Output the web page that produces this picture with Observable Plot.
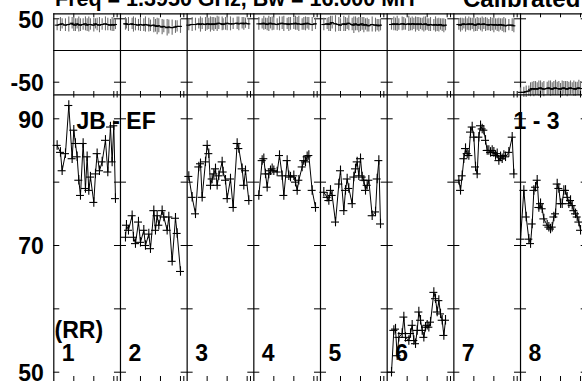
<!DOCTYPE html>
<html><head><meta charset="utf-8">
<script src="https://cdn.jsdelivr.net/npm/d3@7"></script>
<script src="https://cdn.jsdelivr.net/npm/@observablehq/plot@0.6"></script>
<style>
body{margin:0;background:#fff;overflow:hidden;}
#wrap{position:relative;width:582px;height:381px;overflow:hidden;font-family:"Liberation Sans",Arial,sans-serif;font-weight:bold;color:#000;}
#wrap svg{position:absolute;left:0;top:0;background:transparent;}
.ttl{position:absolute;white-space:pre;}
</style></head><body>
<div id="wrap"></div>
<script>
// ---------- text ----------
const titleLeft = "Freq = 1.3950 GHz, Bw = 16.000 MH";
const titleRight = "Calibrated";
const baselineLabel = "JB - EF";
const sourceLabel = "1 - 3";
const polLabel = "(RR)";
const panelLabels = ["1","2","3","4","5","6","7","8"];
const phaseTickLabels = [50, -50];
const ampTickLabels = [90, 70, 50];
const phaseTicks = [50, -50];
const ampTicks = [90, 80, 70, 60, 50];
const timeTicks = [30, 60, 90, 95]; // % of panel

// ---------- data: time (% of panel), amplitude, phase, phase error ----------
const t1 = [5,10,12.5,17.5,22.5,27.5,30,32.5,35,37.5,40,44,47.5,50,52.5,55,60,62.5,65,68.5,72.5,77.5,81,85,87.5,90,92.5];
const a1 = [85.8,84.7,81.8,84.5,92.1,83.7,88.2,86.1,84,80.3,77.9,86.1,79,84,78.7,80.8,76.8,81.3,84.5,81.8,83.2,86.6,81.6,88.7,83.2,88.9,77.4];
const p1 = [40,41,42,40,41,43,41,40,42,41,40,41,42,40,41,41,40,42,41,40,41,42,41,40,41,40,41];
const e1 = [9,11,8,10,12,9,11,10,8,12,10,9,11,10,12,9,11,8,10,12,9,11,10,9,11,10,8];

const t2 = [7.5,9,12,17.5,19.5,22.5,27,30,35,37.5,42.5,45,50,52.5,55,57.5,62.5,65,70,72.5,77.5,82.5,85,90];
const a2 = [71.3,73.2,72.4,74.7,71.3,70.3,73.7,70.5,72.4,70,71.8,69.5,75.5,72.4,74.7,73.2,75.5,74.5,72.4,74.5,67.5,74.3,71.9,65.9];
const p2 = [42,42,41,42,41,41,40,41,40,41,40,39,40,39,38,39,37,38,36,37,36,37,38,38];
const e2 = [10,8,11,9,12,10,9,11,10,12,11,9,12,10,13,11,12,10,13,11,12,10,9,11];

const t3 = [2.5,7.5,12.5,17.5,20,22.5,27.5,30,32.5,35,37.5,40,42.5,45,47.5,52.5,54,57.5,60,65,69,75,77.5,82.5,85,87.5,92.5];
const a3 = [80.9,77.6,75,82.4,82.9,77.6,83.2,85.8,84.5,79.5,80.5,81.3,82.1,79.5,81,83.2,81.6,80.3,77.4,80.5,76,86.1,85.3,82.1,79.5,81.8,77.1];
const p3 = [40,41,41,42,41,42,41,42,42,41,42,41,42,42,43,42,41,42,43,42,42,43,42,43,42,43,42];
const e3 = [9,11,10,8,12,9,11,10,9,12,10,11,9,12,10,11,9,10,12,11,9,10,11,9,10,8,9];

const t4 = [7.5,12.5,15,17.5,20,22.5,25,27.5,30,35,38.5,42.5,45,50,52.5,55,60,62.5,65,67.5,72.5,75,77.5,80,82.5,87.5,92.5];
const a4 = [77.9,83.4,83.7,81.3,79.2,81.3,81.8,82.1,81.8,81.6,84.2,81,77.9,83.4,81,80.8,81,80,78.7,80.3,82.4,83.4,83.2,84,84.2,78.7,76];
const p4 = [42,42,43,42,41,42,43,42,42,41,42,43,42,42,41,42,42,43,42,42,41,42,42,43,42,41,42];
const e4 = [10,8,11,9,10,12,9,11,10,9,11,10,12,9,11,10,9,11,10,12,9,10,11,9,10,11,9];

const t5 = [5,10,12.5,15,17.5,22.5,27.5,30,35,37.5,40,42.5,47.5,50,52.5,55,57.5,60,62.5,65,67.5,70,72.5,77.5,82.5,85,87.5,90];
const a5 = [78.4,77.6,77.1,78.7,77.9,73.7,79.7,81.8,75.5,78.7,80.5,79,76.6,80.8,82.1,83.2,81,83.7,80.8,80.3,78.7,79.5,80.3,74.7,75.3,80.5,83.4,73.4];
const p5 = [41,42,41,42,44,42,41,40,42,41,42,43,41,40,42,41,40,41,42,40,41,40,39,41,40,40,39,40];
const e5 = [10,9,11,12,10,13,11,10,12,11,9,12,10,13,11,10,12,11,10,12,9,11,10,12,11,9,10,9];

const t6 = [6.5,10,12.5,15,17.5,22.5,25,27.5,32.5,35,37.5,40,42.5,45,47.5,50,52.5,55,57.5,60,62.5,65,70,72.5,75,77.5,80,82.5,85,87.5];
const a6 = [50,56.6,56.8,52.6,55.5,56.1,58.7,55.5,55,56.1,57.4,55,54.5,56.6,59.5,58.2,56.6,55.5,57.1,57.4,57.1,57.9,62.6,61.6,59.5,61.3,59.2,58.2,55.8,58.2];
const p6 = [41,42,41,42,41,42,42,41,42,41,42,42,41,42,41,42,41,41,42,41,40,41,40,41,40,40,41,40,39,40];
const e6 = [9,11,10,12,9,11,10,9,12,10,11,9,12,10,11,9,10,12,11,9,10,11,9,12,10,11,9,10,11,9];

const t7 = [7.5,10,12.5,15,17.5,20,22.5,25,27.5,30,32.5,35,37.5,40,42.5,45,47.5,50,52.5,55,57.5,60,62.5,65,67.5,70,72.5,75,77.5,82.5,87.5,90];
const a7 = [80.3,78.7,81,83.7,85.3,84.5,84.2,87.9,88.7,87.1,82.4,81.3,87.1,88.9,88.4,88.2,86.6,85,85,84.7,85,84.7,84.2,84.5,83.4,84,83.7,84.2,84,84.7,87.1,81.3];
const p7 = [41,40,41,42,41,41,42,41,42,41,40,41,42,41,41,42,41,41,40,41,41,40,41,40,40,41,40,40,39,40,40,39];
const e7 = [9,11,10,8,12,9,11,10,9,12,10,11,9,10,12,9,11,10,9,11,10,12,9,10,11,9,10,12,11,9,10,11];

const t8 = [0,5,8.5,12.5,15,17.5,20,22.5,25,27.5,30,32.5,35,40,42.5,45,47.5,50,52.5,55,57.5,60,62.5,65,67.5,70,72.5,75,77.5,80,82.5,85,87.5,90];
const a8 = [71,78.7,74.5,71,70.3,73.4,78.7,79.2,80.3,76,76.6,75.8,74.2,73.2,72.9,72.6,72.9,74.5,75,79.7,79,76.6,76.6,78.7,78.7,77.6,76.6,77.1,76.3,75.5,75,74.5,73.7,72.4];
const p8 = [-66,-66,-65,-64,-62,-60,-61,-60,-61,-60,-59,-60,-61,-60,-59,-60,-61,-60,-59,-60,-60,-61,-60,-59,-60,-61,-60,-59,-60,-60,-61,-60,-59,-60];
const e8 = [7,8,9,8,11,10,12,11,10,12,11,9,12,10,11,12,10,11,12,10,11,9,12,10,11,12,10,11,9,12,11,10,12,11];

const ampErr = 0.75;     // amplitude error
const timeHalf = 6;      // half-width of time bin, % of panel

// ---------- build tables ----------
const panels = [[t1,a1,p1,e1],[t2,a2,p2,e2],[t3,a3,p3,e3],[t4,a4,p4,e4],[t5,a5,p5,e5],[t6,a6,p6,e6],[t7,a7,p7,e7],[t8,a8,p8,e8]];
const rows = [];
panels.forEach(([t,a,p,e], i) => t.forEach((v, j) => rows.push({panel: i, x: i + v/100, a: a[j], p: p[j], e: e[j]})));
const bounds = d3.range(0, 9);
const inner = d3.range(1, 9);
const tickPos = [];
d3.range(8).forEach(i => timeTicks.forEach(tt => tickPos.push(i + tt/100)));

// ---------- geometry (scale ranges) ----------
const W = 582, H = 381;
const xScale = {domain: [0, 8], range: [53.3, 586.7], axis: null};
const phScale = {domain: [-50, 50], range: [81.7, 18.3], axis: null};
const amScale = {domain: [50, 90], range: [371.7, 118.3], axis: null};
const pxX = px => (px - 53.3) / 66.675;
const pxPh = px => 50 - (px - 18.3) / 0.634;
const pxAm = px => 90 - (px - 118.3) / 6.335;
const phTop = pxPh(13.3), phBot = pxPh(94.3);
const amTop = pxAm(94.3), amBot = pxAm(390);
const tickHalf = pxX(59.3);   // ±6px horizontal tick
const FONT = "Liberation Sans, Arial, sans-serif";
const FS = 23;
const bl = 0.32 * FS;         // baseline offset for middle-anchored text
const txt = {fontFamily: FONT, fontSize: FS, fontWeight: "bold", fill: "black", stroke: "none"};

const crossTicks = (vals) => {
  const out = [];
  vals.forEach(v => {
    out.push({y: v, x1: 0, x2: tickHalf});
    inner.forEach(b => out.push({y: v, x1: b - tickHalf, x2: b + tickHalf}));
  });
  return out;
};

// ---------- phase plot ----------
const phase = Plot.plot({
  width: W, height: H, margin: 0,
  x: xScale, y: phScale,
  style: {background: "transparent", fontFamily: FONT},
  marks: [
    Plot.ruleY([phTop], {x1: 0, x2: 8, stroke: "black", strokeWidth: 1.2}),
    Plot.ruleY([0], {x1: 0, x2: 8, stroke: "black", strokeWidth: 1.2}),
    Plot.ruleX(bounds, {x: d => d, y1: phBot, y2: phTop, stroke: "black", strokeWidth: 1.2}),
    Plot.ruleY(crossTicks(phaseTicks), {y: "y", x1: "x1", x2: "x2", stroke: "black"}),
    Plot.ruleX(tickPos, {x: d => d, y1: phTop, y2: pxPh(17.3), stroke: "black"}),
    Plot.ruleX(rows, {x: "x", y1: d => d.p - d.e, y2: d => d.p + d.e, stroke: "#6e6e6e", strokeWidth: 1.1}),
    Plot.line(rows, {x: "x", y: "p", z: "panel", stroke: "black", strokeWidth: 1}),
    Plot.ruleY(rows, {y: "p", x1: d => d.x - timeHalf/200, x2: d => d.x + timeHalf/200, stroke: "black", strokeWidth: 1.1}),
    Plot.text(phaseTickLabels, {x: () => 0, y: d => d, text: d => String(d), textAnchor: "end", dx: -10, dy: 1.8, ...txt})
  ]
});

// ---------- amplitude plot ----------
const amp = Plot.plot({
  width: W, height: H, margin: 0,
  x: xScale, y: amScale,
  style: {background: "transparent", fontFamily: FONT},
  marks: [
    Plot.ruleY([amTop], {x1: 0, x2: 8, stroke: "black", strokeWidth: 1.2}),
    Plot.ruleX(bounds, {x: d => d, y1: amBot, y2: amTop, stroke: "black", strokeWidth: 1.2}),
    Plot.ruleY(crossTicks(ampTicks), {y: "y", x1: "x1", x2: "x2", stroke: "black"}),
    Plot.ruleX(tickPos, {x: d => d, y1: pxAm(91), y2: pxAm(97.5), stroke: "black"}),
    Plot.ruleX(tickPos, {x: d => d, y1: pxAm(376), y2: pxAm(384), stroke: "black"}),
    Plot.line(rows, {x: "x", y: "a", z: "panel", stroke: "black", strokeWidth: 1}),
    Plot.ruleX(rows, {x: "x", y1: d => d.a - ampErr, y2: d => d.a + ampErr, stroke: "black", strokeWidth: 1.1}),
    Plot.ruleY(rows, {y: "a", x1: d => d.x - timeHalf/100, x2: d => d.x + timeHalf/100, stroke: "black", strokeWidth: 1.1}),
    Plot.text(ampTickLabels, {x: () => 0, y: d => d, text: d => String(d), textAnchor: "end", dx: -10, dy: 1.6, ...txt}),
    Plot.text([baselineLabel], {x: () => pxX(76), y: () => pxAm(128 - bl), text: d => d, textAnchor: "start", ...txt}),
    Plot.text([sourceLabel], {x: () => pxX(513), y: () => pxAm(128 - bl), text: d => d, textAnchor: "start", ...txt}),
    Plot.text([polLabel], {x: () => pxX(54), y: () => pxAm(337 - bl), text: d => d, textAnchor: "start", ...txt}),
    Plot.text(panelLabels, {x: (d, i) => i + pxX(61.3), y: () => pxAm(360.7 - bl), text: d => d, textAnchor: "start", ...txt})
  ]
});

const wrap = document.getElementById("wrap");
wrap.appendChild(phase);
wrap.appendChild(amp);
// title: baseline near y = 7 (top of the title is cut off, as in the reference)
const mk = (s, left, size) => {
  const d = document.createElement("div");
  d.className = "ttl"; d.textContent = s;
  d.style.left = left + "px"; d.style.fontSize = size + "px"; d.style.lineHeight = size + "px";
  d.style.top = (7.5 - 0.905 * size - (size - 1.117 * size) / 2) + "px";
  wrap.appendChild(d);
};
mk(titleLeft, 55, 21.5);
mk(titleRight, 463, 24);
</script>
</body></html>
